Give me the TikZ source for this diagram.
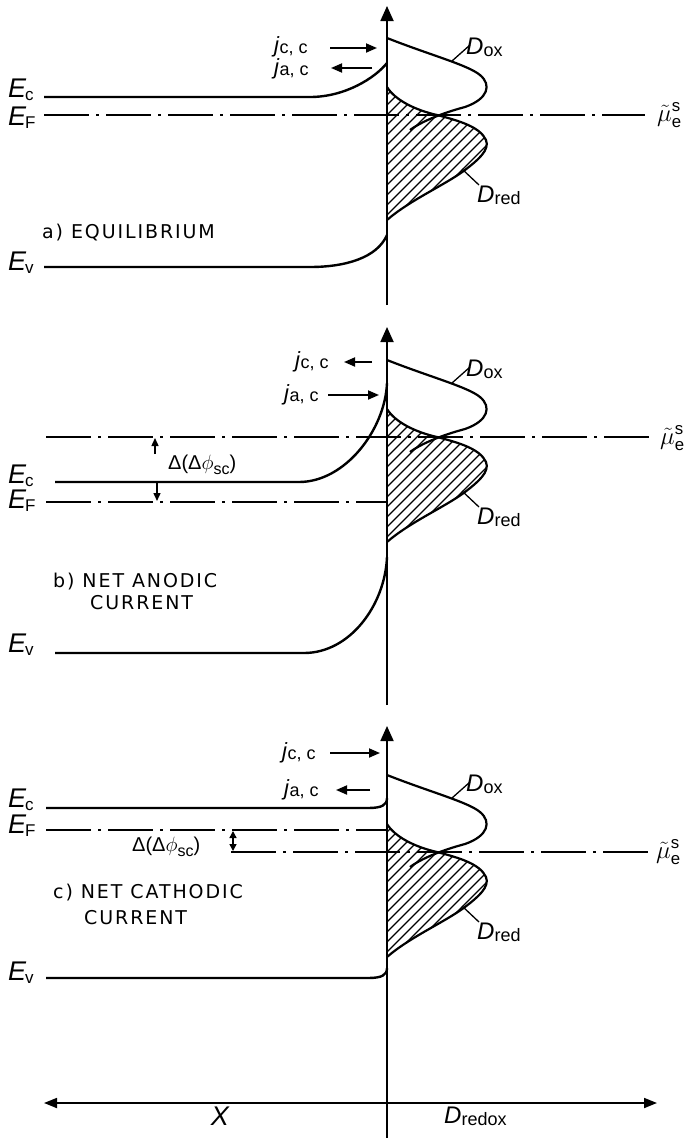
\documentclass[tikz,border=0pt]{standalone}
\usepackage{fontspec}
\setmainfont{Liberation Sans}
\newfontfamily\capsfont[LetterSpace=10]{DejaVu Sans}
\usetikzlibrary{arrows.meta}

\newcommand{\Elab}[1]{{\fontsize{27}{27}\selectfont\itshape E}\kern-1pt\raisebox{-3pt}{\fontsize{17}{17}\selectfont #1}}
\newcommand{\Dlab}[1]{{\fontsize{24}{24}\selectfont\itshape D}\raisebox{-2pt}{\fontsize{18}{18}\selectfont #1}}
\newcommand{\jlab}[1]{{\fontsize{22}{22}\selectfont\itshape j}\kern0.5pt\raisebox{-1pt}{\fontsize{18}{18}\selectfont #1}}
\newcommand{\mulab}{{\fontsize{24}{24}\selectfont$\tilde{\mu}^{\mathrm{s}}_{\mathrm{e}}$}}
\newcommand{\ddphi}{{\fontsize{20}{20}\selectfont Δ(Δ$\phi$\raisebox{-5pt}{\fontsize{16}{16}\selectfont sc})}}

\tikzset{
  lev/.style={line width=2.4pt},
  ddline/.style={line width=2pt, dash pattern=on 45pt off 7pt on 3pt off 7pt},
  axisline/.style={line width=1.8pt},
  bigtip/.style={-{Triangle[width=13pt,length=15pt]}},
  jarrow/.style={line width=1.8pt,-{Triangle[width=9pt,length=11pt]}},
  smalltip/.style={line width=1.4pt,-{Triangle[width=7pt,length=8pt]}},
  bothtip/.style={line width=1.4pt,{Triangle[width=7pt,length=7pt]}-{Triangle[width=7pt,length=7pt]}},
  dos/.style={line width=2.2pt},
  hatchline/.style={line width=1.1pt},
  lbl/.style={inner sep=0pt, anchor=base west},
  leader/.style={line width=1.3pt},
  captxt/.style={inner sep=0pt, anchor=west, font=\capsfont\fontsize{19}{19}\selectfont},
}

% redox distributions, drawn relative to the level of mu (y=0)
\newcommand{\redoxdraw}[1]{%
  \begin{scope}
    \clip (387,-28) .. controls (395,-15) and (415,-5) .. (437,0)
      .. controls (460,6) and (480,12) .. (486,25)
      .. controls (490,35) and (478,45) .. (465,55)
      .. controls (445,70) and (410,85) .. (387,105) -- cycle;
    \foreach \hh in {-40,-30,...,150} \draw[hatchline] (387,\hh) -- ++(160,-160);
  \end{scope}
  \draw[dos] (387,-28) .. controls (395,-15) and (415,-5) .. (437,0)
      .. controls (460,6) and (480,12) .. (486,25)
      .. controls (490,35) and (478,45) .. (465,55)
      .. controls (445,70) and (410,85) .. (387,105);
  \draw[dos] (387,-77) .. controls (430,-60) and (468,-50) .. (480,-40)
      .. controls (492,-30) and (488,-16) .. (465,-8)
      .. controls (450,-4) and (425,4) .. (410,15);
  \node[lbl] (#1ox) at (466,-61) {\Dlab{ox}};
  \node[lbl] (#1red) at (477,87) {\Dlab{red}};
  \coordinate (#1oxA) at (452,-54); \coordinate (#1oxB) at (470,-70);
  \coordinate (#1redA) at (462,54); \coordinate (#1redB) at (479,70);
  \draw[leader] (#1oxA) -- (#1oxB);
  \draw[leader] (#1redA) -- (#1redB);
}

\begin{document}
\begin{tikzpicture}[x=1pt,y=-1pt]
\useasboundingbox (0,0) rectangle (690,1138);

% ================= panel a =================
\coordinate (aTop) at (387,6); \coordinate (aBot) at (387,305);
\draw[axisline,bigtip] (aBot) -- (aTop);
\begin{scope}[shift={(0,115)}]\redoxdraw{a}\end{scope}
\draw[lev] (44,97) -- (310,97) .. controls (345,97) and (375,78) .. (387,63);
\draw[lev] (44,267) -- (310,267) .. controls (345,267) and (377,258) .. (387,235);
\draw[ddline] (44,115) -- (645,115);
\node[lbl] (aEc) at (8,97) {\Elab{c}};
\node[lbl] (aEF) at (8,125) {\Elab{F}};
\node[lbl] (aEv) at (8,270) {\Elab{v}};
\node[lbl] (amu) at (657,121) {\mulab};
\node[lbl] (ajcc) at (274,52) {\jlab{c, c}};
\node[lbl] (ajac) at (274,74) {\jlab{a, c}};
\coordinate (ajccA) at (330,48); \coordinate (ajccB) at (377,48);
\coordinate (ajacA) at (372,68); \coordinate (ajacB) at (331,68);
\draw[jarrow] (ajccA) -- (ajccB);
\draw[jarrow] (ajacA) -- (ajacB);
\node[captxt] (acap) at (42,233) {a) EQUILIBRIUM};

% ================= panel b =================
\coordinate (bTop) at (387,327); \coordinate (bBot) at (387,705);
\draw[axisline,bigtip] (bBot) -- (bTop);
\begin{scope}[shift={(0,437)}]\redoxdraw{b}\end{scope}
\draw[lev] (55,482) -- (299,482) .. controls (345,482) and (385,430) .. (387,383);
\draw[lev] (55,653) -- (304,653) .. controls (350,653) and (385,605) .. (387,557);
\draw[ddline] (46,437) -- (650,437);
\draw[ddline] (46,502) -- (387,502);
\node[lbl] (bEc) at (8,483) {\Elab{c}};
\node[lbl] (bEF) at (8,508) {\Elab{F}};
\node[lbl] (bEv) at (8,652) {\Elab{v}};
\node[lbl] (bmu) at (660,444) {\mulab};
\node[lbl] (bjcc) at (295,367) {\jlab{c, c}};
\node[lbl] (bjac) at (284,400) {\jlab{a, c}};
\coordinate (bjccA) at (372,362); \coordinate (bjccB) at (344,362);
\coordinate (bjacA) at (328,395); \coordinate (bjacB) at (379,395);
\draw[jarrow] (bjccA) -- (bjccB);
\draw[jarrow] (bjacA) -- (bjacB);
\node[lbl, anchor=west] (bdd) at (168,465) {\ddphi};
\coordinate (bupA) at (155,454); \coordinate (bupB) at (155,438);
\coordinate (bdnA) at (157,482); \coordinate (bdnB) at (157,501);
\draw[smalltip] (bupA) -- (bupB);
\draw[smalltip] (bdnA) -- (bdnB);
\node[captxt] (bcap1) at (53,582) {b) NET ANODIC};
\node[captxt] (bcap2) at (90,603) {CURRENT};

% ================= panel c =================
\coordinate (cTop) at (387,726); \coordinate (cBot) at (387,1138);
\draw[axisline,bigtip] (cBot) -- (cTop);
\begin{scope}[shift={(0,852)}]\redoxdraw{c}\end{scope}
\draw[lev] (46,808) -- (368,808) .. controls (382,808) and (387,805) .. (387,798);
\draw[lev] (46,978) -- (368,978) .. controls (382,978) and (387,975) .. (387,968);
\draw[ddline] (46,830) -- (387,830);
\draw[ddline] (231,852) -- (648,852);
\node[lbl] (cEc) at (8,807) {\Elab{c}};
\node[lbl] (cEF) at (8,833) {\Elab{F}};
\node[lbl] (cEv) at (8,980) {\Elab{v}};
\node[lbl] (cmu) at (656,858) {\mulab};
\node[lbl] (cjcc) at (282,758) {\jlab{c, c}};
\node[lbl] (cjac) at (284,795) {\jlab{a, c}};
\coordinate (cjccA) at (330,753); \coordinate (cjccB) at (380,753);
\coordinate (cjacA) at (370,790); \coordinate (cjacB) at (336,790);
\draw[jarrow] (cjccA) -- (cjccB);
\draw[jarrow] (cjacA) -- (cjacB);
\node[lbl, anchor=west] (cdd) at (132,847) {\ddphi};
\coordinate (cddA) at (233,831); \coordinate (cddB) at (233,851);
\draw[bothtip] (cddA) -- (cddB);
\node[captxt] (ccap1) at (53,893) {c) NET CATHODIC};
\node[captxt] (ccap2) at (84,918) {CURRENT};

% ================= bottom axis =================
\coordinate (xL) at (44,1103); \coordinate (xR) at (657,1103);
\draw[axisline,{Triangle[width=10pt,length=13pt]}-{Triangle[width=10pt,length=13pt]}] (xL) -- (xR);
\node[inner sep=0pt] (xlab) at (220,1116) {\fontsize{27}{27}\selectfont\itshape X};
\node[lbl] (dredox) at (444,1123) {\Dlab{redox}};
\end{tikzpicture}
\end{document}
